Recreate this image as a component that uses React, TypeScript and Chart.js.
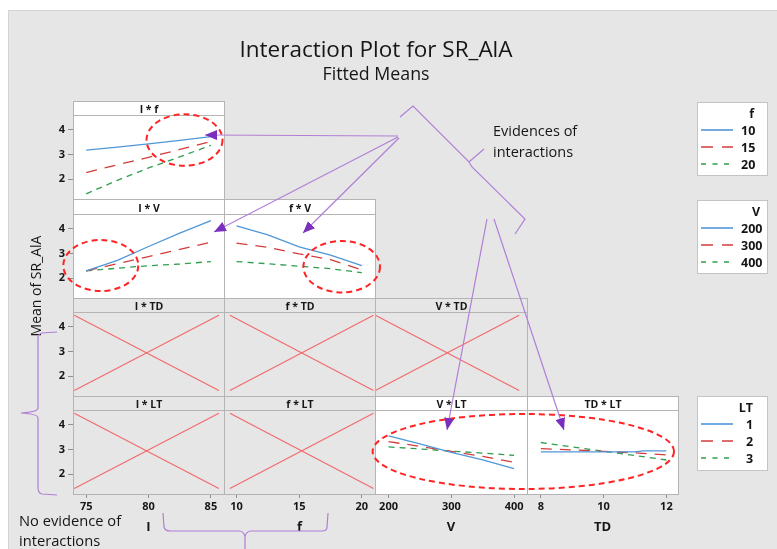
import React, { useEffect, useRef } from "react";
import { Chart, registerables } from "chart.js";

Chart.register(...registerables);

// ---- factor levels and axis ticks ----
const I_LEVELS = [75, 77.5, 80, 82.5, 85];
const F_LEVELS = [10, 12.5, 15, 17.5, 20];
const V_LEVELS = [200, 250, 300, 350, 400];
const TD_LEVELS = [8, 9, 10, 11, 11.25, 12];

const I_TICKS = [75, 80, 85];
const F_TICKS = [10, 15, 20];
const V_TICKS = [200, 300, 400];
const TD_TICKS = [8, 10, 12];
const Y_TICKS = [2, 3, 4];

const I_RANGE = [73.94, 86.05];
const F_RANGE = [9.0, 21.05];
const V_RANGE = [178.4, 420.6];
const TD_RANGE = [7.56, 12.37];
const Y_RANGE = [1.19, 4.6];

const F_GROUPS = ["10", "15", "20"];
const V_GROUPS = ["200", "300", "400"];
const LT_GROUPS = ["1", "2", "3"];

// ---- fitted means ----
// I * f
const IF_F10 = [3.17, 3.3, 3.43, 3.57, 3.72];
const IF_F15 = [2.26, 2.58, 2.88, 3.2, 3.52];
const IF_F20 = [1.4, 1.95, 2.45, 2.9, 3.37];
// I * V
const IV_V200 = [2.29, 2.72, 3.28, 3.82, 4.33];
const IV_V300 = [2.29, 2.58, 2.87, 3.16, 3.45];
const IV_V400 = [2.29, 2.4, 2.5, 2.57, 2.67];
// f * V
const FV_V200 = [4.12, 3.75, 3.27, 2.93, 2.5];
const FV_V300 = [3.42, 3.25, 2.98, 2.75, 2.33];
const FV_V400 = [2.67, 2.58, 2.48, 2.38, 2.22];
// V * LT
const VLT_1 = [3.55, 3.22, 2.88, 2.58, 2.22];
const VLT_2 = [3.32, 3.12, 2.92, 2.72, 2.48];
const VLT_3 = [3.1, 3.02, 2.93, 2.85, 2.76];
// TD * LT
const TDLT_1 = [2.9, 2.9, 2.9, 2.9, 2.94, 2.94];
const TDLT_2 = [3.03, 2.98, 2.92, 2.86, 2.84, 2.78];
const TDLT_3 = [3.28, 3.1, 2.93, 2.75, 2.71, 2.57];

// crossed-out (not significant) panels
const CROSS_I = [74.04, 85.64];
const CROSS_F = [9.47, 20.93];
const CROSS_V = [179, 408];
const CROSS_Y = [4.47, 1.41];

// ---- styling ----
const FONT = "'Open Sans', 'Noto Sans', sans-serif";
const BG = "#e6e6e6";
const FRAME = "#b4b4b4";
const TEXT = "#161616";
const BLUE = "#4f97d8";
const RED = "#d23c3c";
const GREEN = "#2f9e4f";
const CROSS = "#f26b6b";
const PURPLE = "#b07fd6";
const PURPLE_HEAD = "#7b2fbe";
const ELLIPSE = "#ff2424";
const DASH_RED = [11, 8];
const DASH_GREEN = [6, 5];
const LEVEL_STYLES = [
  { color: BLUE, dash: [] as number[] },
  { color: RED, dash: DASH_RED },
  { color: GREEN, dash: DASH_GREEN },
];

// ---- grid geometry ----
const COL_X = [73, 224, 375, 527, 678];
const HEAD_Y = [101, 199, 298, 396];
const PLOT_Y = [115, 214, 312, 410];
const PLOT_BOTTOM = [199, 298, 396, 494];
const AXIS_W = 30;
const AXIS_H = 55;

type Axis = { name: string; range: number[]; ticks: number[]; cross: number[] };
const AX_I: Axis = { name: "I", range: I_RANGE, ticks: I_TICKS, cross: CROSS_I };
const AX_F: Axis = { name: "f", range: F_RANGE, ticks: F_TICKS, cross: CROSS_F };
const AX_V: Axis = { name: "V", range: V_RANGE, ticks: V_TICKS, cross: CROSS_V };
const AX_TD: Axis = { name: "TD", range: TD_RANGE, ticks: TD_TICKS, cross: CROSS_V };

type Panel = {
  title: string;
  row: number;
  col: number;
  axis: Axis;
  xs?: number[];
  series?: number[][];
};

const PANELS: Panel[] = [
  { title: "I * f", row: 0, col: 0, axis: AX_I, xs: I_LEVELS, series: [IF_F10, IF_F15, IF_F20] },
  { title: "I * V", row: 1, col: 0, axis: AX_I, xs: I_LEVELS, series: [IV_V200, IV_V300, IV_V400] },
  { title: "f * V", row: 1, col: 1, axis: AX_F, xs: F_LEVELS, series: [FV_V200, FV_V300, FV_V400] },
  { title: "I * TD", row: 2, col: 0, axis: AX_I },
  { title: "f * TD", row: 2, col: 1, axis: AX_F },
  { title: "V * TD", row: 2, col: 2, axis: AX_V },
  { title: "I * LT", row: 3, col: 0, axis: AX_I },
  { title: "f * LT", row: 3, col: 1, axis: AX_F },
  { title: "V * LT", row: 3, col: 2, axis: AX_V, xs: V_LEVELS, series: [VLT_1, VLT_2, VLT_3] },
  { title: "TD * LT", row: 3, col: 3, axis: AX_TD, xs: TD_LEVELS, series: [TDLT_1, TDLT_2, TDLT_3] },
];

const panelFill = {
  id: "panelFill",
  beforeDraw(chart: any, _args: any, opts: any) {
    if (!opts || !opts.color) return;
    const { ctx, chartArea: a } = chart;
    ctx.save();
    ctx.fillStyle = opts.color;
    ctx.fillRect(a.left, a.top, a.right - a.left, a.bottom - a.top);
    ctx.restore();
  },
};

function buildConfig(p: Panel): any {
  const active = !!p.series;
  const showY = p.col === 0;
  const showX = p.row === 3;
  const tickFont = { family: FONT, size: 11, weight: "bold" };
  const datasets = active
    ? p.series!.map((ys, k) => ({
        data: p.xs!.map((x, i) => ({ x, y: ys[i] })),
        borderColor: LEVEL_STYLES[k].color,
        borderWidth: 1.3,
        borderDash: LEVEL_STYLES[k].dash,
        pointRadius: 0,
        tension: 0,
        fill: false,
      }))
    : [
        [CROSS_Y[0], CROSS_Y[1]],
        [CROSS_Y[1], CROSS_Y[0]],
      ].map((ys) => ({
        data: p.axis.cross.map((x, i) => ({ x, y: ys[i] })),
        borderColor: CROSS,
        borderWidth: 1.2,
        pointRadius: 0,
        tension: 0,
        fill: false,
      }));

  const x: any = {
    type: "linear",
    position: "bottom",
    min: p.axis.range[0],
    max: p.axis.range[1],
    display: showX,
    afterBuildTicks: (s: any) => {
      s.ticks = p.axis.ticks.map((v) => ({ value: v }));
    },
    grid: { drawOnChartArea: false, drawTicks: true, tickLength: 4, color: "#8f8f8f" },
    border: { display: false },
    ticks: { padding: 2, autoSkip: false, maxRotation: 0, color: TEXT, font: tickFont },
    title: {
      display: true,
      text: p.axis.name,
      color: TEXT,
      font: { family: FONT, size: 13, weight: "bold" },
      padding: { top: 0, bottom: 14 },
    },
  };
  if (showX) {
    x.afterFit = (s: any) => {
      s.height = AXIS_H;
      s.paddingLeft = 0;
      s.paddingRight = 0;
    };
  }
  const y: any = {
    type: "linear",
    position: "left",
    min: Y_RANGE[0],
    max: Y_RANGE[1],
    display: showY,
    afterBuildTicks: (s: any) => {
      s.ticks = Y_TICKS.map((v) => ({ value: v }));
    },
    grid: { drawOnChartArea: false, drawTicks: true, tickLength: 5, color: "#8f8f8f" },
    border: { display: false },
    ticks: { padding: 3, color: TEXT, font: tickFont },
  };
  if (showY) {
    y.afterFit = (s: any) => {
      s.width = AXIS_W;
      s.paddingTop = 0;
      s.paddingBottom = 0;
    };
  }

  return {
    type: "line",
    data: { datasets },
    options: {
      responsive: false,
      animation: false,
      events: [],
      layout: { padding: 0 },
      plugins: {
        legend: { display: false },
        tooltip: { enabled: false },
        title: { display: false },
        panelFill: { color: active ? "#ffffff" : null },
      },
      scales: { x, y },
    },
    plugins: [panelFill],
  };
}

function PanelChart({ p }: { p: Panel }) {
  const ref = useRef<HTMLCanvasElement>(null);
  const showY = p.col === 0;
  const showX = p.row === 3;
  const left = COL_X[p.col] - (showY ? AXIS_W : 0);
  const top = PLOT_Y[p.row];
  const w = COL_X[p.col + 1] - COL_X[p.col] + (showY ? AXIS_W : 0);
  const h = PLOT_BOTTOM[p.row] - PLOT_Y[p.row] + (showX ? AXIS_H : 0);
  useEffect(() => {
    const chart = new Chart(ref.current as HTMLCanvasElement, buildConfig(p));
    return () => chart.destroy();
  }, []);
  return (
    <canvas
      ref={ref}
      width={w}
      height={h}
      style={{ position: "absolute", left, top, width: w, height: h }}
    />
  );
}

const LEGENDS = [
  { title: "f", groups: F_GROUPS, top: 102, h: 73, titleX: 754, labelX: 741 },
  { title: "V", groups: V_GROUPS, top: 200, h: 73, titleX: 760, labelX: 741 },
  { title: "LT", groups: LT_GROUPS, top: 396, h: 74, titleX: 753, labelX: 746 },
];

function Overlay() {
  const txt = { fontFamily: FONT, fill: TEXT } as any;
  return (
    <svg
      width={777}
      height={549}
      style={{ position: "absolute", left: 0, top: 0, pointerEvents: "none" }}
    >
      <defs>
        <marker
          id="head"
          viewBox="0 0 12 10"
          refX="12"
          refY="5"
          markerWidth="12"
          markerHeight="10"
          markerUnits="userSpaceOnUse"
          orient="auto"
        >
          <path d="M0,0 L12,5 L0,10 z" fill={PURPLE_HEAD} />
        </marker>
      </defs>

      {/* panel headers and frames */}
      {PANELS.map((p) => {
        const x0 = COL_X[p.col];
        const x1 = COL_X[p.col + 1];
        const hy = HEAD_Y[p.row];
        const py = PLOT_Y[p.row];
        const by = PLOT_BOTTOM[p.row];
        return (
          <g key={p.title}>
            {p.series && <rect x={x0} y={hy} width={x1 - x0} height={py - hy} fill="#ffffff" />}
            <rect
              x={x0 + 0.5}
              y={hy + 0.5}
              width={x1 - x0}
              height={by - hy}
              fill="none"
              stroke={FRAME}
              strokeWidth={1}
            />
            <line x1={x0} x2={x1 + 1} y1={py + 0.5} y2={py + 0.5} stroke={FRAME} strokeWidth={1} />
            <text
              {...txt}
              x={(x0 + x1) / 2 + 0.5}
              y={(hy + py) / 2 + 1}
              fontSize={10.5}
              fontWeight={700}
              textAnchor="middle"
              dominantBaseline="central"
            >
              {p.title}
            </text>
          </g>
        );
      })}

      {/* titles */}
      <text {...txt} x={376} y={57} fontSize={22.5} textAnchor="middle">
        Interaction Plot for SR_AlA
      </text>
      <text {...txt} x={376} y={80} fontSize={17.8} textAnchor="middle">
        Fitted Means
      </text>
      <text
        {...txt}
        x={35}
        y={286}
        fontSize={14}
        textAnchor="middle"
        dominantBaseline="central"
        transform="rotate(-90 35 286)"
      >
        Mean of SR_AlA
      </text>

      {/* legends */}
      {LEGENDS.map((lg) => (
        <g key={lg.title}>
          <rect x={697.5} y={lg.top + 0.5} width={70} height={lg.h} fill="#ffffff" stroke="#c4c4c4" />
          <text {...txt} x={lg.titleX} y={lg.top + 11} fontSize={12.5} fontWeight={700} textAnchor="end" dominantBaseline="central">
            {lg.title}
          </text>
          {lg.groups.map((g, k) => {
            const ry = lg.top + 28 + k * 17;
            return (
              <g key={g}>
                <line
                  x1={701}
                  x2={733}
                  y1={ry}
                  y2={ry}
                  stroke={LEVEL_STYLES[k].color}
                  strokeWidth={1.6}
                  strokeDasharray={k === 0 ? undefined : k === 1 ? "12 9" : "5 6.5"}
                />
                <text {...txt} x={lg.labelX} y={ry} fontSize={12.5} fontWeight={700} dominantBaseline="central">
                  {g}
                </text>
              </g>
            );
          })}
        </g>
      ))}

      {/* annotations */}
      <text {...txt} x={493} y={130} fontSize={14.5} dominantBaseline="central">
        Evidences of
      </text>
      <text {...txt} x={493} y={151} fontSize={14.5} dominantBaseline="central">
        interactions
      </text>
      <text {...txt} x={19} y={520} fontSize={14.7} dominantBaseline="central">
        No evidence of
      </text>
      <text {...txt} x={19} y={540} fontSize={14.7} dominantBaseline="central">
        interactions
      </text>

      <g fill="none" stroke={ELLIPSE} strokeWidth={2} strokeDasharray="6 4">
        <ellipse cx={184.5} cy={140} rx={38} ry={25.7} />
        <ellipse cx={100.8} cy={265.5} rx={37.5} ry={25.5} />
        <ellipse cx={341.7} cy={266.7} rx={38.3} ry={25.7} />
        <ellipse cx={523.3} cy={451.5} rx={150.7} ry={37.5} />
      </g>

      <g fill="none" stroke={PURPLE} strokeWidth={1.2}>
        <line x1={398} y1={136} x2={205} y2={135} markerEnd="url(#head)" />
        <line x1={398} y1={137} x2={214} y2={232} markerEnd="url(#head)" />
        <line x1={399} y1={138} x2={303} y2={233} markerEnd="url(#head)" />
        <line x1={487} y1={219} x2={447} y2={430} markerEnd="url(#head)" />
        <line x1={494} y1={219} x2={564} y2={430} markerEnd="url(#head)" />
        <path d="M400,117 L413,106 L469,162 L484,149 M469,162 L472,167 L525,219 L515,234" />
        <path d="M57,332 L42,333 Q38,334 38,338 L38,408 Q38,412 21,413 Q38,414 38,418 L38,488 Q38,493 42,494 L57,495" />
        <path d="M163,513 L164,527 Q165,531 170,531 L239,531 Q244,531 245,537 L245,549 M245,537 Q246,531 251,531 L322,531 Q327,531 327,527 L328,513" />
      </g>
    </svg>
  );
}

export default function App() {
  return (
    <div
      style={{
        position: "absolute",
        left: 0,
        top: 0,
        width: 777,
        height: 549,
        background: "#ffffff",
        overflow: "hidden",
      }}
    >
      <div
        style={{
          position: "absolute",
          left: 8,
          top: 10,
          width: 769,
          height: 539,
          background: BG,
          borderLeft: "1px solid #d4d4d4",
          borderTop: "1px solid #d4d4d4",
        }}
      />
      {PANELS.map((p) => (
        <PanelChart key={p.title} p={p} />
      ))}
      <Overlay />
    </div>
  );
}
